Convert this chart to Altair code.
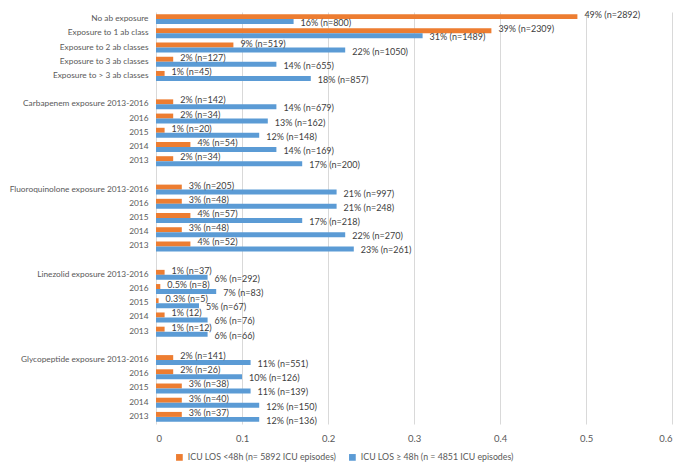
import altair as alt
import pandas as pd

rows = [
    "No ab exposure", "Exposure to 1 ab class", "Exposure to 2 ab classes",
    "Exposure to 3 ab classes", "Exposure to > 3 ab classes", "",
    "Carbapenem exposure 2013-2016", "2016", "2015", "2014", "2013", "",
    "Fluoroquinolone exposure 2013-2016", "2016", "2015", "2014", "2013", "",
    "Linezolid exposure 2013-2016", "2016", "2015", "2014", "2013", "",
    "Glycopeptide exposure 2013-2016", "2016", "2015", "2014", "2013",
]

short_vals = [0.49, 0.39, 0.09, 0.02, 0.01, None,
              0.02, 0.02, 0.01, 0.04, 0.02, None,
              0.03, 0.03, 0.04, 0.03, 0.04, None,
              0.01, 0.005, 0.003, 0.01, 0.01, None,
              0.02, 0.02, 0.03, 0.03, 0.03]
short_labels = ["49% (n=2892)", "39% (n=2309)", "9% (n=519)", "2% (n=127)", "1% (n=45)", None,
                "2% (n=142)", "2% (n=34)", "1% (n=20)", "4% (n=54)", "2% (n=34)", None,
                "3% (n=205)", "3% (n=48)", "4% (n=57)", "3% (n=48)", "4% (n=52)", None,
                "1% (n=37)", "0.5% (n=8)", "0.3% (n=5)", "1% (12)", "1% (n=12)", None,
                "2% (n=141)", "2% (n=26)", "3% (n=38)", "3% (n=40)", "3% (n=37)"]

long_vals = [0.16, 0.31, 0.22, 0.14, 0.18, None,
             0.14, 0.13, 0.12, 0.14, 0.17, None,
             0.21, 0.21, 0.17, 0.22, 0.23, None,
             0.06, 0.07, 0.05, 0.06, 0.06, None,
             0.11, 0.10, 0.11, 0.12, 0.12]
long_labels = ["16% (n=800)", "31% (n=1489)", "22% (n=1050)", "14% (n=655)", "18% (n=857)", None,
               "14% (n=679)", "13% (n=162)", "12% (n=148)", "14% (n=169)", "17% (n=200)", None,
               "21% (n=997)", "21% (n=248)", "17% (n=218)", "22% (n=270)", "23% (n=261)", None,
               "6% (n=292)", "7% (n=83)", "5% (n=67)", "6% (n=76)", "6% (n=66)", None,
               "11% (n=551)", "10% (n=126)", "11% (n=139)", "12% (n=150)", "12% (n=136)"]

series = ["ICU LOS <48h (n= 5892 ICU episodes)", "ICU LOS \u2265 48h (n = 4851 ICU episodes)"]
colors = ["#ED7D31", "#5B9BD5"]
x_ticks = [0, 0.1, 0.2, 0.3, 0.4, 0.5, 0.6]

keys = [f"{i:02d}|{r}" for i, r in enumerate(rows)]
recs = []
for i, k in enumerate(keys):
    if short_vals[i] is not None:
        recs.append({"key": k, "series": series[0], "value": short_vals[i], "label": short_labels[i]})
        recs.append({"key": k, "series": series[1], "value": long_vals[i], "label": long_labels[i]})
df = pd.DataFrame(recs)

W, H = 516, 412
FONT = "Lato"

y_enc = alt.Y("key:N", scale=alt.Scale(domain=keys, paddingInner=0.3, paddingOuter=0.15),
              axis=alt.Axis(title=None, labelExpr="split(datum.value, '|')[1]", ticks=False,
                            domain=False, labelPadding=8, labelFontSize=8.3, labelColor="#595959",
                            labelFont=FONT, grid=False, labelLimit=300))
yoff_enc = alt.YOffset("series:N", scale=alt.Scale(domain=series, paddingInner=0, paddingOuter=0))
x_enc = alt.X("value:Q", scale=alt.Scale(domain=[0, 0.6], nice=False),
              axis=alt.Axis(title=None, values=x_ticks, format=".1~f", grid=True, gridColor="#d9d9d9",
                            domain=False, ticks=False, labelPadding=9, labelFontSize=9.5,
                            labelColor="#595959", labelFont=FONT))

base = alt.Chart(df).encode(y=y_enc, yOffset=yoff_enc, x=x_enc)

bars = base.mark_bar().encode(
    color=alt.Color("series:N", scale=alt.Scale(domain=series, range=colors),
                    legend=alt.Legend(title=None, orient="none", legendX=19, legendY=H + 29,
                                      direction="horizontal", symbolType="square", symbolSize=45,
                                      symbolStrokeWidth=0, labelFontSize=8.8, labelFont=FONT,
                                      labelColor="#595959", columnPadding=12, labelLimit=400,
                                      labelOffset=4, gridAlign="none"))
)

txt_short = base.transform_filter(alt.datum.series == series[0]).mark_text(
    align="left", baseline="middle", dx=7, dy=-1.5, fontSize=9, font=FONT, color="#404040"
).encode(text="label:N")
txt_long = base.transform_filter(alt.datum.series == series[1]).mark_text(
    align="left", baseline="middle", dx=7, dy=1.5, fontSize=9, font=FONT, color="#404040"
).encode(text="label:N")

chart = alt.layer(bars, txt_short, txt_long).properties(
    width=W, height=H,
    autosize=alt.AutoSizeParams(type="none"),
    padding={"left": 148, "top": 4, "right": 5, "bottom": 41},
).configure_view(stroke=None)

chart.save("out.html", embed_options={"renderer": "svg", "actions": False})
